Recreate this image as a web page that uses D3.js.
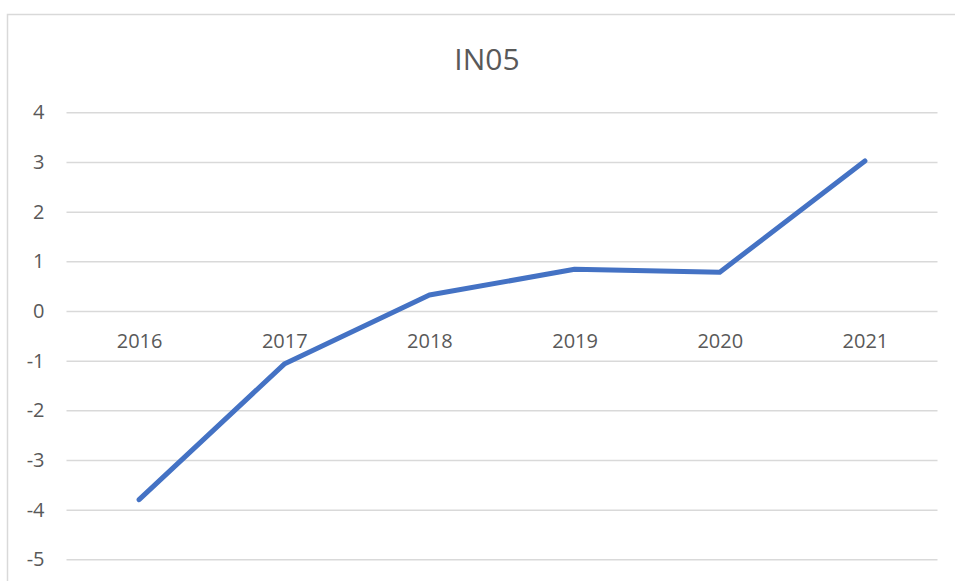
<!DOCTYPE html>
<html lang="en">

<head>
  <meta charset="UTF-8" />
  <title>IN05</title>
  <script src="https://d3js.org/d3.v7.js"></script>
  <style>
    body { margin: 0; background: #fff; }
    text { font-family: "Open Sans", sans-serif; fill: #595959; }
  </style>
</head>

<body>
  <svg></svg>
</body>

<script>
  // chart data
  const years = ['2016', '2017', '2018', '2019', '2020', '2021'];
  const values = [-3.8, -1.07, 0.32, 0.84, 0.78, 3.02];
  const yTicks = [4, 3, 2, 1, 0, -1, -2, -3, -4, -5];

  const width = 955;
  const height = 581;
  const plotL = 66.5, plotR = 937.5, plotT = 112.3, plotB = 559.3;

  const svg = d3.select('svg')
    .attr('width', width)
    .attr('height', height);

  // chart area border (runs off the page right and bottom)
  svg.append('rect')
    .attr('x', 7.5).attr('y', 14.5)
    .attr('width', 1000).attr('height', 700)
    .attr('fill', 'none')
    .attr('stroke', '#d9d9d9')
    .attr('stroke-width', 1.5);

  svg.append('text')
    .attr('x', 487)
    .attr('y', 70)
    .attr('text-anchor', 'middle')
    .style('font-size', '30px')
    .text('IN05');

  const x = d3.scalePoint().domain(years).range([plotL, plotR]).padding(0.5);
  const y = d3.scaleLinear().domain([-5, 4]).range([plotB, plotT]);

  // gridlines + y labels
  const yAxis = d3.axisLeft(y)
    .tickValues(yTicks)
    .tickSize(-(plotR - plotL))
    .tickPadding(22)
    .tickFormat(d3.format('d'));

  const gy = svg.append('g')
    .attr('transform', 'translate(' + plotL + ',0)')
    .call(yAxis);
  gy.select('.domain').remove();
  gy.selectAll('.tick line').attr('stroke', '#d9d9d9').attr('stroke-width', 1.5);
  gy.selectAll('.tick text')
    .style('font-size', '20px')
    .attr('fill', '#595959')
    .text(d => d < 0 ? '-' + Math.abs(d) : d);

  // category labels sit just under the zero line
  const xAxis = d3.axisBottom(x).tickSize(0).tickPadding(23);
  const gx = svg.append('g')
    .attr('transform', 'translate(0,' + y(0) + ')')
    .call(xAxis);
  gx.select('.domain').remove();
  gx.selectAll('.tick text')
    .style('font-size', '20px')
    .attr('fill', '#595959');

  const line = d3.line()
    .x((d, i) => x(years[i]))
    .y(d => y(d));

  svg.append('path')
    .datum(values)
    .attr('d', line)
    .attr('fill', 'none')
    .attr('stroke', '#4472c4')
    .attr('stroke-width', 5)
    .attr('stroke-linejoin', 'round')
    .attr('stroke-linecap', 'round');
</script>

</html>
